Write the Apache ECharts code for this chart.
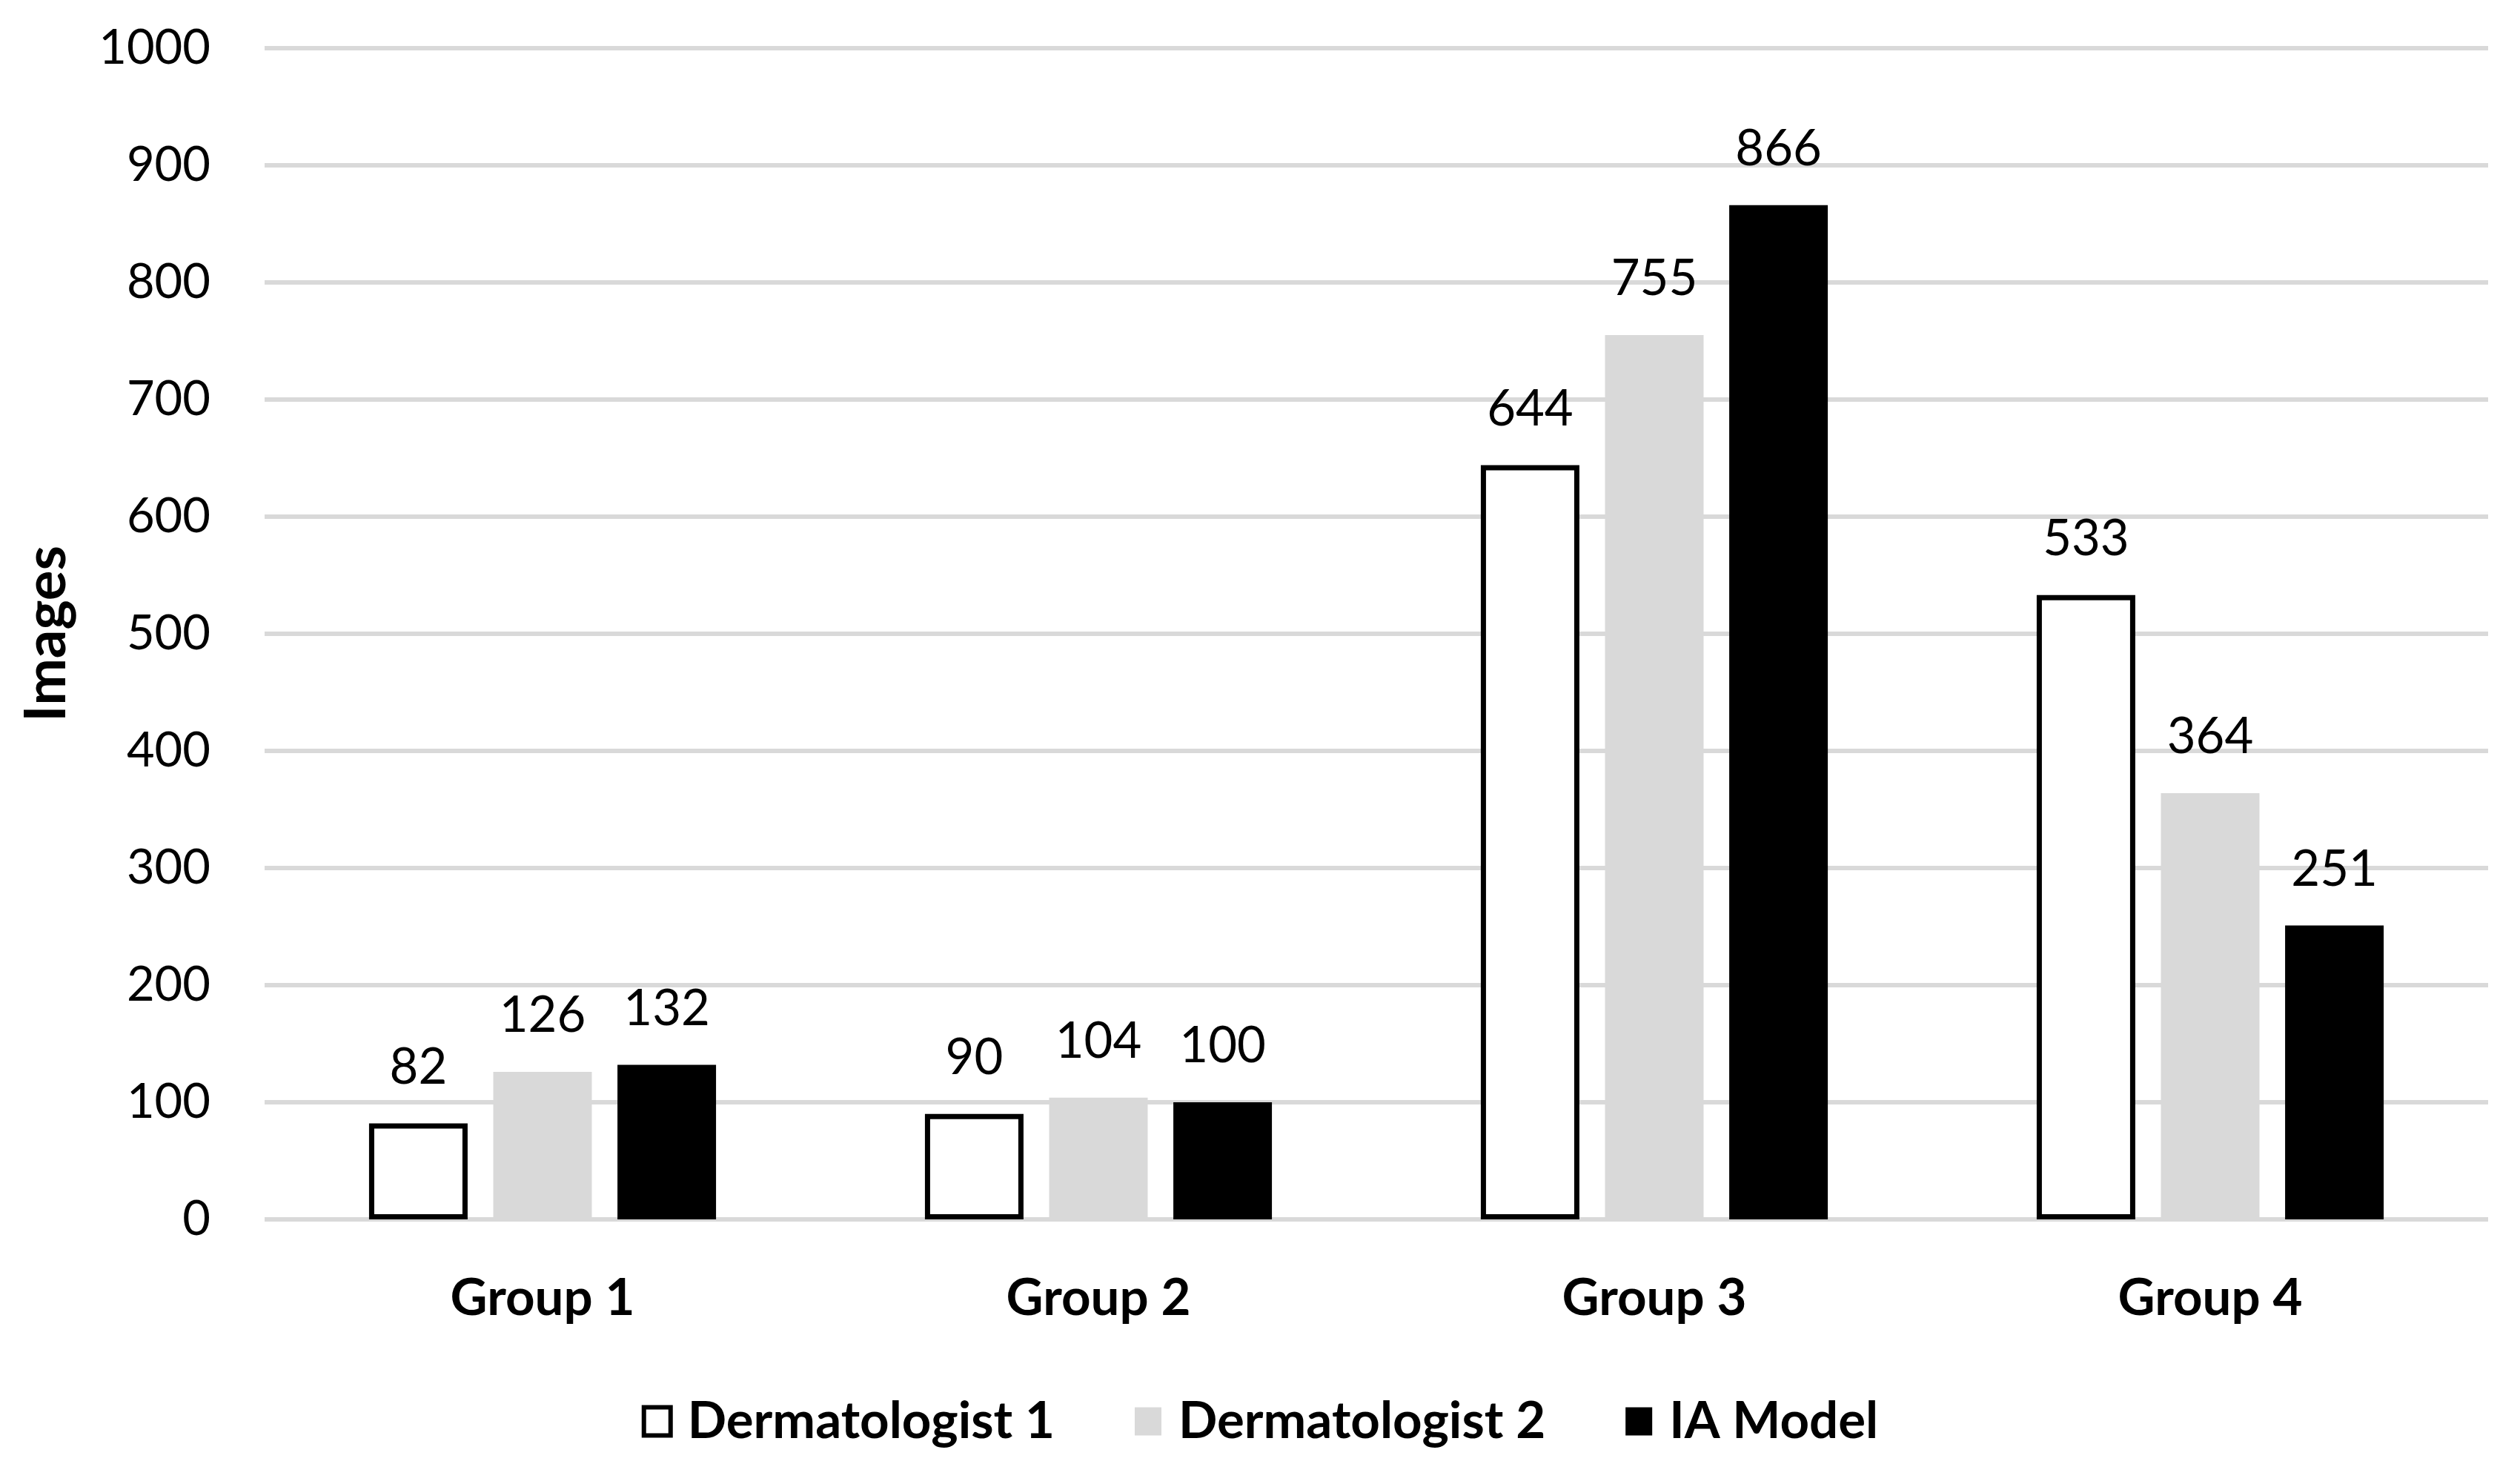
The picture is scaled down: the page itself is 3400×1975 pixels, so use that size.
<!DOCTYPE html>
<html>
<head>
<meta charset="utf-8">
<script src="https://cdn.jsdelivr.net/npm/echarts@6/dist/echarts.min.js"></script>
<style>
  html, body { margin: 0; padding: 0; background: #fff; }
  #chart { width: 3400px; height: 1975px; }
</style>
</head>
<body>
<div id="chart"></div>
<script>
// Datos del gráfico
const groups = ['Group 1', 'Group 2', 'Group 3', 'Group 4'];
const seriesNames = ['Dermatologist 1', 'Dermatologist 2', 'IA Model'];
const derm1 = [82, 90, 644, 533];
const derm2 = [126, 104, 755, 364];
const iaModel = [132, 100, 866, 251];
const yTicks = [0, 100, 200, 300, 400, 500, 600, 700, 800, 900, 1000];

const FONT = 'Lato';

const chart = echarts.init(document.getElementById('chart'), null, { renderer: 'canvas' });

const labelStyle = {
  show: true,
  position: 'top',
  distance: 42,
  color: '#000',
  fontFamily: FONT,
  fontSize: 67
};

function makeSeries(name, data, itemStyle) {
  return {
    name: name,
    type: 'bar',
    data: data,
    barWidth: 133,
    barGap: '26%',
    itemStyle: itemStyle,
    label: labelStyle
  };
}

const option = {
  animation: false,
  backgroundColor: '#fff',
  grid: { left: 357, top: 65, width: 3000, height: 1580, containLabel: false },
  legend: {
    data: [
      { name: seriesNames[0], itemStyle: { color: '#fff', borderColor: '#000', borderWidth: 6 } },
      { name: seriesNames[1] },
      { name: seriesNames[2] }
    ],
    left: 'center',
    top: 1878,
    itemWidth: 36,
    itemHeight: 38,
    itemGap: 108,
    icon: 'rect',
    textStyle: {
      color: '#000',
      fontFamily: FONT,
      fontWeight: 'bold',
      fontSize: 69,
      padding: [0, 0, 0, 18]
    }
  },
  xAxis: {
    type: 'category',
    data: groups,
    axisLine: { show: false },
    axisTick: { show: false },
    axisLabel: {
      margin: 72,
      color: '#000',
      fontFamily: FONT,
      fontWeight: 'bold',
      fontSize: 69
    }
  },
  yAxis: {
    type: 'value',
    min: yTicks[0],
    max: yTicks[yTicks.length - 1],
    interval: 100,
    name: 'Images',
    nameLocation: 'middle',
    nameGap: 256,
    nameTextStyle: {
      color: '#000',
      fontFamily: FONT,
      fontWeight: 'bold',
      fontSize: 76
    },
    axisLine: { show: false },
    axisTick: { show: false },
    axisLabel: {
      margin: 73,
      color: '#000',
      fontFamily: FONT,
      fontSize: 65,
      formatter: function (v) { return String(v); }
    },
    splitLine: { lineStyle: { color: '#d9d9d9', width: 6 } }
  },
  series: [
    makeSeries(seriesNames[0], derm1, { color: '#fff', borderColor: '#000', borderWidth: 7 }),
    makeSeries(seriesNames[1], derm2, { color: '#d9d9d9' }),
    makeSeries(seriesNames[2], iaModel, { color: '#000' })
  ]
};

chart.setOption(option);
</script>
</body>
</html>
